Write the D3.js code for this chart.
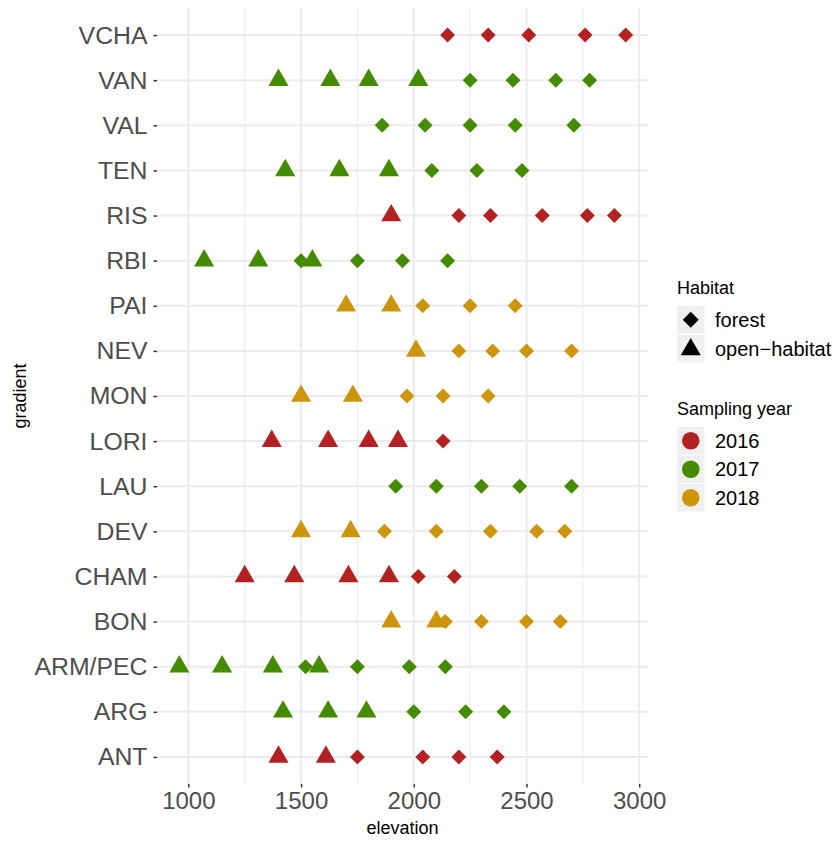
<!DOCTYPE html>
<html>
<head>
<meta charset="utf-8">
<script src="https://cdn.jsdelivr.net/npm/d3@7"></script>
<style>
  html, body { margin: 0; padding: 0; background: #ffffff; }
  svg { display: block; font-family: "Liberation Sans", Arial, Helvetica, sans-serif; }
</style>
</head>
<body>
<svg id="chart" width="836" height="841"></svg>
<script>
// Elevation of sampled plots along each gradient
const gradients = ["ANT", "ARG", "ARM/PEC", "BON", "CHAM", "DEV", "LAU", "LORI", "MON",
                   "NEV", "PAI", "RBI", "RIS", "TEN", "VAL", "VAN", "VCHA"];
const samplingYear = [2016, 2017, 2017, 2018, 2016, 2018, 2017, 2016, 2018,
                      2018, 2018, 2017, 2016, 2017, 2017, 2017, 2016];
const forestElevation = [
  [1750, 2040, 2200, 2370],        // ANT
  [2000, 2230, 2400],              // ARG
  [1520, 1750, 1980, 2140],        // ARM/PEC
  [2140, 2300, 2500, 2650],        // BON
  [2020, 2180],                    // CHAM
  [1870, 2100, 2340, 2545, 2670],  // DEV
  [1920, 2100, 2300, 2470, 2700],  // LAU
  [2130],                          // LORI
  [1970, 2130, 2330],              // MON
  [2200, 2350, 2500, 2700],        // NEV
  [2040, 2250, 2450],              // PAI
  [1500, 1750, 1950, 2150],        // RBI
  [2200, 2340, 2570, 2770, 2890],  // RIS
  [2080, 2280, 2480],              // TEN
  [1860, 2050, 2250, 2450, 2710],  // VAL
  [2250, 2440, 2630, 2780],        // VAN
  [2150, 2330, 2510, 2760, 2940]   // VCHA
];
const openElevation = [
  [1400, 1610],                    // ANT
  [1420, 1620, 1790],              // ARG
  [960, 1150, 1375, 1580],         // ARM/PEC
  [1900, 2100],                    // BON
  [1250, 1470, 1710, 1890],        // CHAM
  [1500, 1720],                    // DEV
  [],                              // LAU
  [1370, 1620, 1800, 1930],        // LORI
  [1500, 1730],                    // MON
  [2010],                          // NEV
  [1700, 1900],                    // PAI
  [1070, 1310, 1550],              // RBI
  [1900],                          // RIS
  [1430, 1670, 1890],              // TEN
  [],                              // VAL
  [1400, 1630, 1800, 2020],        // VAN
  []                               // VCHA
];
const habitats = ["forest", "open\u2212habitat"];
const years = [2016, 2017, 2018];
const yearColours = ["#B22222", "#458B00", "#CD950C"];
const xTicks = [1000, 1500, 2000, 2500, 3000];
const xMinorTicks = [1250, 1750, 2250, 2750];

// One record per plot, drawn in order of elevation within each gradient
const points = [];
gradients.forEach((g, i) => {
  const rows = [];
  forestElevation[i].forEach(e => rows.push({ gradient: g, elevation: e, habitat: habitats[0], year: samplingYear[i] }));
  openElevation[i].forEach(e => rows.push({ gradient: g, elevation: e, habitat: habitats[1], year: samplingYear[i] }));
  rows.sort((a, b) => a.elevation - b.elevation);
  points.push(...rows);
});

const svg = d3.select("#chart");
const panel = { left: 157, right: 648, top: 8, bottom: 784 };

const ext = d3.extent(points, d => d.elevation);
const pad = (ext[1] - ext[0]) * 0.05;
const x = d3.scaleLinear().domain([ext[0] - pad, ext[1] + pad]).range([panel.left, panel.right]);
const y = d3.scalePoint().domain(gradients.slice().reverse()).range([panel.top, panel.bottom]).padding(0.6);
const colour = d3.scaleOrdinal().domain(years).range(yearColours);

const diamond = d3.symbol().type(d3.symbolSquare).size(112)();
const triangle = d3.symbol().type(d3.symbolTriangle).size(175)();
const shapeOf = h => h === habitats[0] ? diamond : triangle;
const rotOf = h => h === habitats[0] ? 45 : 0;

// Grid
const grid = svg.append("g");
grid.selectAll("line.minor").data(xMinorTicks).join("line")
  .attr("x1", d => x(d)).attr("x2", d => x(d))
  .attr("y1", panel.top).attr("y2", panel.bottom)
  .attr("stroke", "#ebebeb").attr("stroke-width", 1);
grid.selectAll("line.majorx").data(xTicks).join("line")
  .attr("x1", d => x(d)).attr("x2", d => x(d))
  .attr("y1", panel.top).attr("y2", panel.bottom)
  .attr("stroke", "#ebebeb").attr("stroke-width", 2);
grid.selectAll("line.majory").data(gradients).join("line")
  .attr("x1", panel.left).attr("x2", panel.right)
  .attr("y1", d => y(d)).attr("y2", d => y(d))
  .attr("stroke", "#ebebeb").attr("stroke-width", 2);

// Axes
const xAxis = svg.append("g").attr("transform", `translate(0,${panel.bottom})`)
  .call(d3.axisBottom(x).tickValues(xTicks).tickSize(3.5).tickPadding(4).tickFormat(d3.format("d")));
xAxis.select(".domain").remove();
xAxis.selectAll("line").attr("stroke", "#333333").attr("stroke-width", 1.5);
xAxis.selectAll("text").attr("fill", "#4d4d4d").attr("font-size", 24).attr("font-family", null);

const yAxis = svg.append("g").attr("transform", `translate(${panel.left},0)`)
  .call(d3.axisLeft(y).tickSize(3.5).tickPadding(6));
yAxis.select(".domain").remove();
yAxis.selectAll("line").attr("stroke", "#333333").attr("stroke-width", 1.5);
yAxis.selectAll("text").attr("fill", "#4d4d4d").attr("font-size", 24.8).attr("font-family", null);

svg.append("text").attr("x", (panel.left + panel.right) / 2).attr("y", 834)
  .attr("text-anchor", "middle").attr("font-size", 18).attr("fill", "#000").text("elevation");
svg.append("text").attr("transform", `translate(26,${(panel.top + panel.bottom) / 2}) rotate(-90)`)
  .attr("text-anchor", "middle").attr("font-size", 18).attr("fill", "#000").text("gradient");

// Points
svg.append("g").selectAll("path").data(points).join("path")
  .attr("d", d => shapeOf(d.habitat))
  .attr("transform", d => `translate(${x(d.elevation)},${y(d.gradient)}) rotate(${rotOf(d.habitat)})`)
  .attr("fill", d => colour(d.year));

// Legends
const legend = svg.append("g").attr("transform", "translate(677,0)");
legend.append("text").attr("x", 0).attr("y", 294).attr("font-size", 18).attr("fill", "#000").text("Habitat");
const hKeys = legend.selectAll("g.h").data(habitats).join("g")
  .attr("transform", (d, i) => `translate(0,${306 + i * 29})`);
hKeys.append("rect").attr("width", 27.5).attr("height", 27.5).attr("fill", "#f0f0f0");
hKeys.append("path")
  .attr("d", d => d === habitats[0] ? d3.symbol().type(d3.symbolSquare).size(128)() : d3.symbol().type(d3.symbolTriangle).size(175)())
  .attr("transform", d => `translate(13.75,${d === habitats[0] ? 13.75 : 14.5}) rotate(${rotOf(d)})`)
  .attr("fill", "#000");
hKeys.append("text").attr("x", 38).attr("y", 13.75).attr("dy", "0.35em")
  .attr("font-size", 20).attr("fill", "#000").text(d => d);

legend.append("text").attr("x", 0).attr("y", 415).attr("font-size", 18).attr("fill", "#000").text("Sampling year");
const yKeys = legend.selectAll("g.y").data(years).join("g")
  .attr("transform", (d, i) => `translate(0,${427 + i * 28.5})`);
yKeys.append("rect").attr("width", 27.5).attr("height", 27.5).attr("fill", "#f0f0f0");
yKeys.append("circle").attr("cx", 13.75).attr("cy", 13.75).attr("r", 8.8).attr("fill", d => colour(d));
yKeys.append("text").attr("x", 38).attr("y", 13.75).attr("dy", "0.35em")
  .attr("font-size", 20).attr("fill", "#000").text(d => d);
</script>
</body>
</html>
